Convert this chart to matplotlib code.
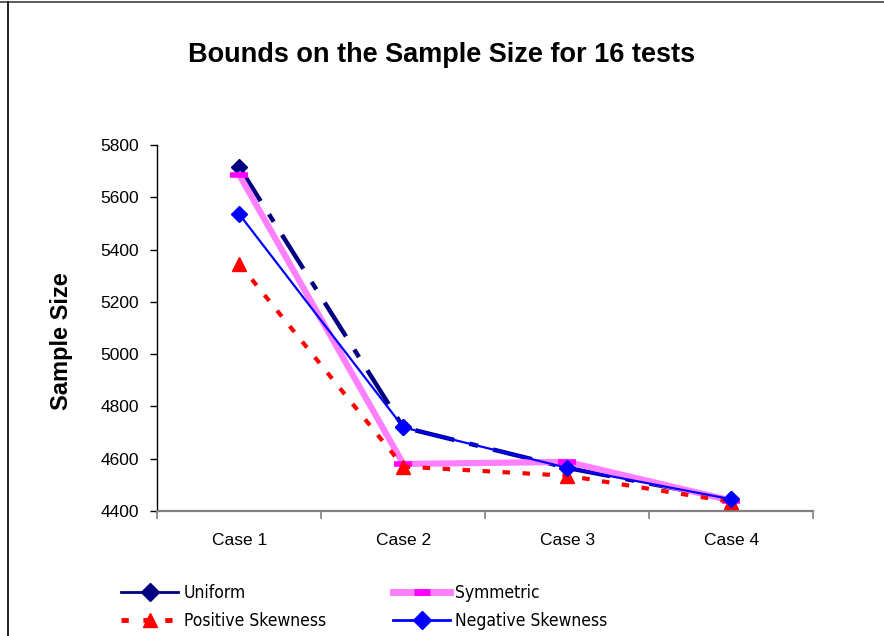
import matplotlib
matplotlib.use("Agg")
import matplotlib.pyplot as plt
from matplotlib.lines import Line2D

plt.rcParams['font.family'] = ['Liberation Sans', 'DejaVu Sans']

cases = ["Case 1", "Case 2", "Case 3", "Case 4"]
uniform = [5715, 4720, 4565, 4445]
symmetric = [5685, 4580, 4588, 4440]
positive_skew = [5345, 4570, 4535, 4435]
negative_skew = [5535, 4720, 4565, 4445]
y_ticks = [4400, 4600, 4800, 5000, 5200, 5400, 5600, 5800]

fig = plt.figure(figsize=(8.84, 6.36), dpi=100)
ax = fig.add_axes([0.178, 0.1965, 0.742, 0.5755])

x = list(range(1, len(cases) + 1))

ax.plot(x, uniform, color="#000080", lw=3.2, dashes=(9, 3.5, 2, 3.5),
        marker="D", ms=8, mfc="#000080", mec="#000080", zorder=2)
ax.plot(x, symmetric, color="#FF80FF", lw=4.5, marker="_", ms=13,
        mew=4, mec="#FF00FF", zorder=3)
ax.plot(x, positive_skew, color="#FF0000", lw=3, dashes=(1.8, 3),
        marker="^", ms=10, mfc="#FF0000", mec="#FF0000", zorder=4)
ax.plot(x, negative_skew, color="#0000FF", lw=1.6, marker="D", ms=8,
        mfc="#0000FF", mec="#0000FF", zorder=5)

ax.set_xlim(0.5, 4.5)
ax.set_ylim(4400, 5800)
ax.set_yticks(y_ticks)
ax.set_yticklabels([str(v) for v in y_ticks], fontsize=12.5)

# category boundaries carry tick marks, labels sit centred between them
ax.set_xticks([0.5, 1.5, 2.5, 3.5, 4.5])
ax.set_xticklabels([])
ax.set_xticks(x, minor=True)
ax.set_xticklabels(cases, minor=True, fontsize=12.5)
ax.tick_params(axis="x", which="minor", length=0, pad=16)
ax.tick_params(axis="x", which="major", length=6, width=1.2, color="#808080")
ax.tick_params(axis="y", length=5, width=1, pad=8)

for side in ("top", "right"):
    ax.spines[side].set_visible(False)
ax.spines["bottom"].set_color("#808080")
ax.spines["bottom"].set_linewidth(1.6)
ax.spines["left"].set_linewidth(1.0)

ax.set_ylabel("Sample Size", fontsize=17, fontweight="bold")
ax.yaxis.set_label_coords(-0.128, 0.464)
fig.text(0.5, 0.913, "Bounds on the Sample Size for 16 tests",
         ha="center", va="center", fontsize=19.5, fontweight="bold")

# legend entries
h_uni = Line2D([], [], color="#000080", lw=2, marker="D", ms=9, mfc="#000080", mec="#000080")
h_pos = Line2D([], [], color="#FF0000", lw=3.5, dashes=(1.5, 3), marker="^", ms=10,
               mfc="#FF0000", mec="#FF0000")
h_sym = Line2D([], [], color="#FF80FF", lw=5, marker="_", ms=11, mew=5, mec="#FF00FF")
h_neg = Line2D([], [], color="#0000FF", lw=2, marker="D", ms=9, mfc="#0000FF", mec="#0000FF")

leg_kw = dict(frameon=False, handlelength=3.3, handletextpad=0.3,
              labelspacing=0.55, borderaxespad=0, borderpad=0,
              prop={"family": ["DejaVu Sans"], "stretch": "condensed", "size": 12.5})
leg1 = fig.legend([h_uni, h_pos], ["Uniform", "Positive Skewness"],
                  loc="upper left", bbox_to_anchor=(0.137, 0.081), **leg_kw)
leg2 = fig.legend([h_sym, h_neg], ["Symmetric", "Negative Skewness"],
                  loc="upper left", bbox_to_anchor=(0.4445, 0.081), **leg_kw)

# outer frame along top and left edges
fig.add_artist(Line2D([0.0, 1.0], [0.9965, 0.9965], transform=fig.transFigure,
                      color="#404040", lw=1.2))
fig.add_artist(Line2D([0.0085, 0.0085], [0.0, 0.9965], transform=fig.transFigure,
                      color="black", lw=1.2))

fig.savefig("out.png", dpi=100)
